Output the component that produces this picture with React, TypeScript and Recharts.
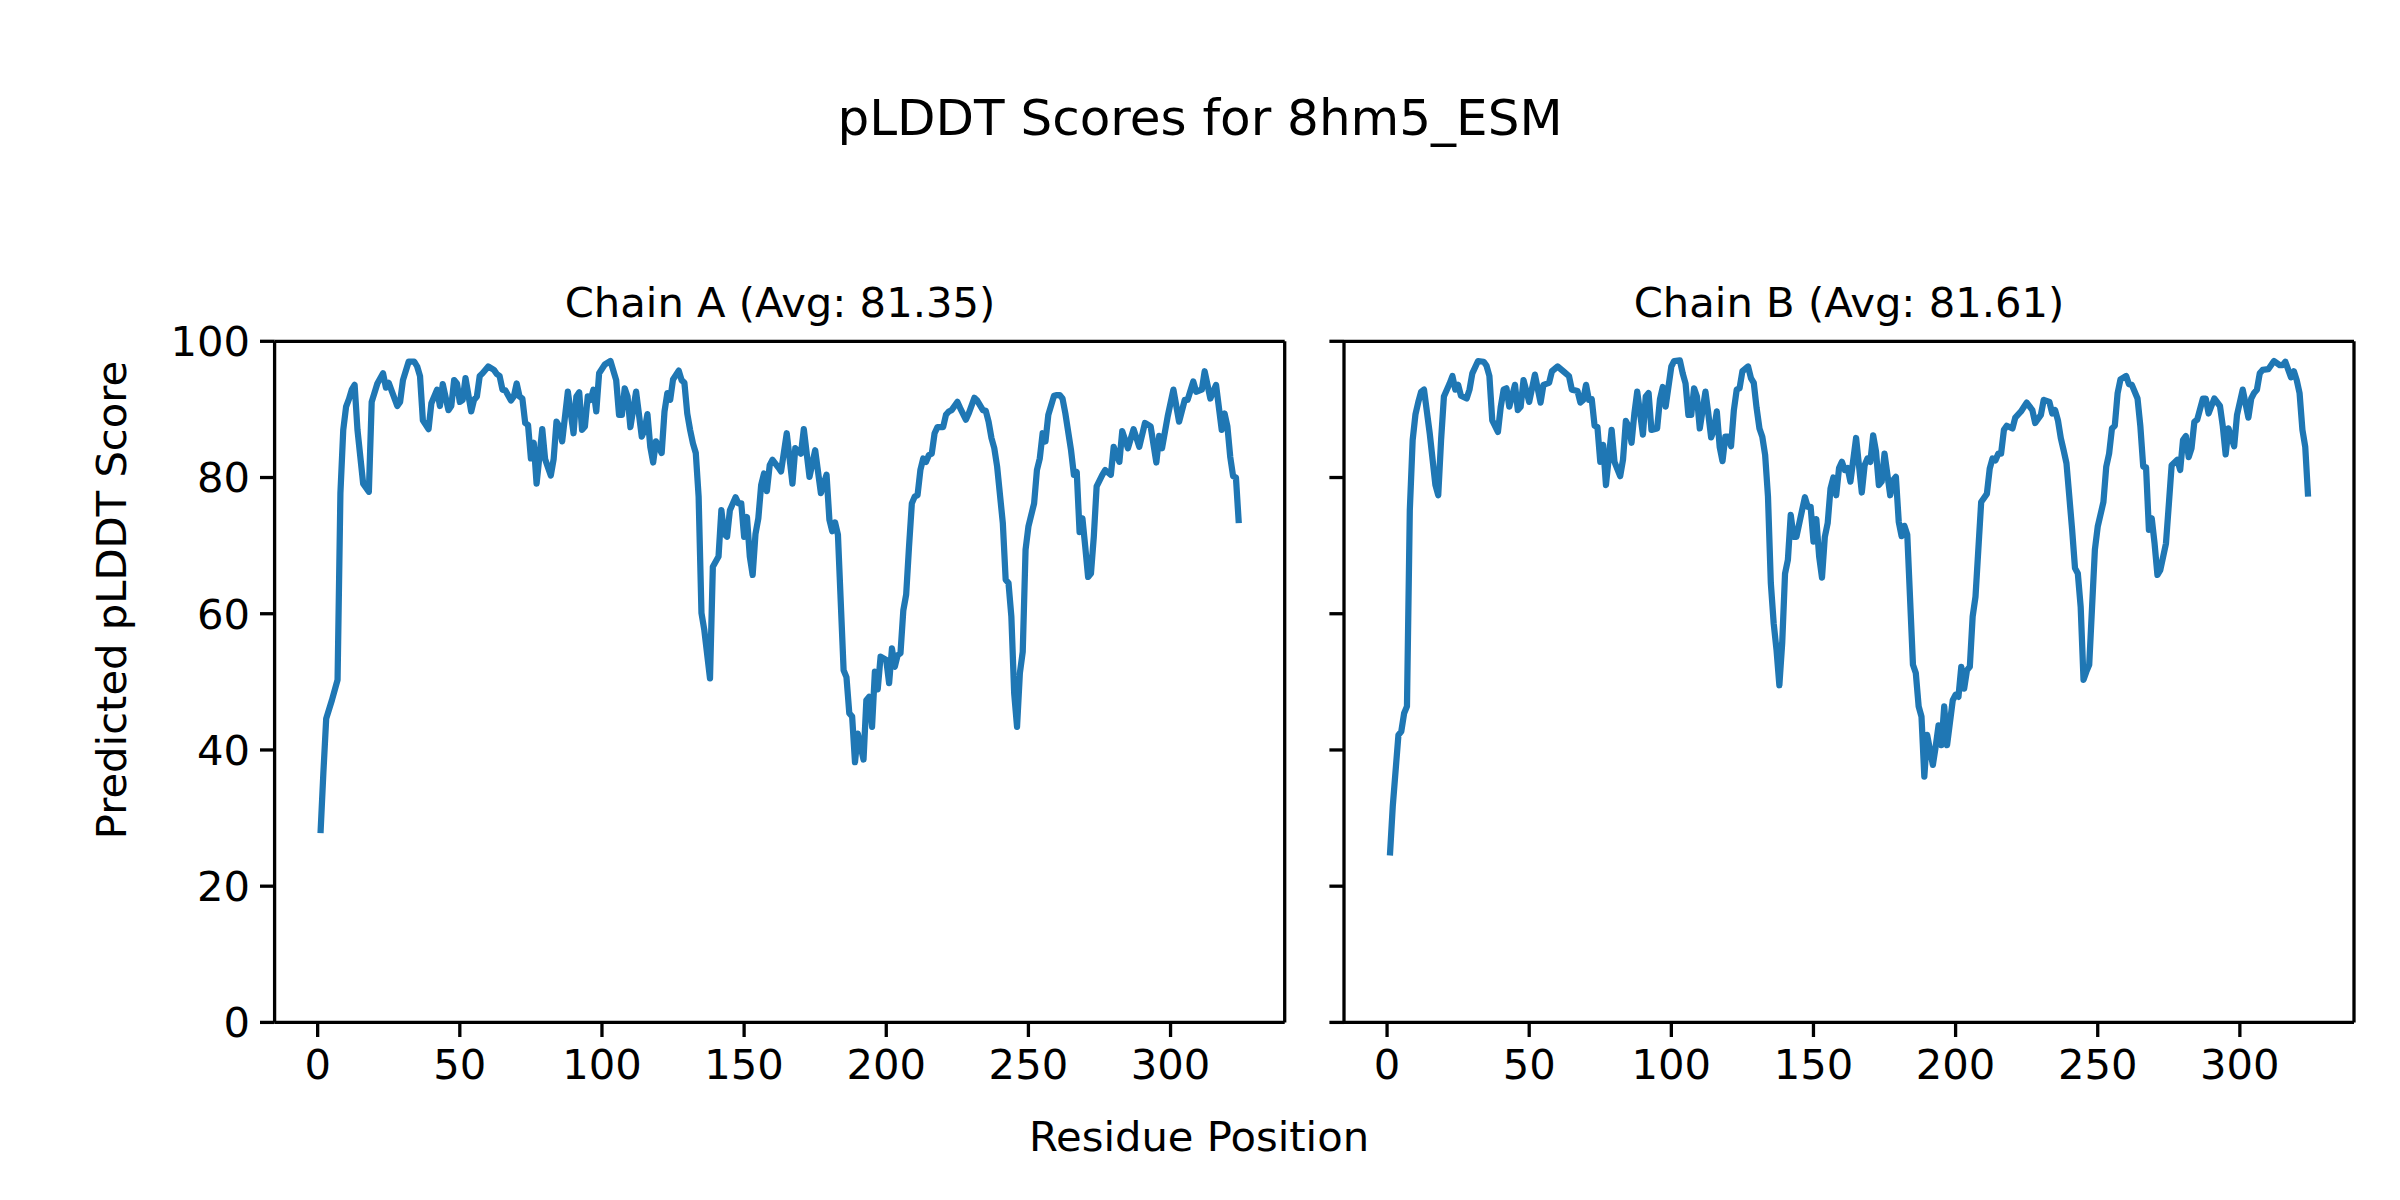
import { LineChart, Line, XAxis, YAxis } from 'recharts';

const FONT = '"DejaVu Sans", sans-serif';
const BLUE = '#1f77b4';

const xTicks = [0, 50, 100, 150, 200, 250, 300];
const yTicks = [0, 20, 40, 60, 80, 100];

const residuesA = [
  1, 2, 3, 5, 7, 8, 9, 10, 11, 12, 13, 14, 16, 18, 19, 21, 23, 24, 25, 28, 29, 30, 32, 34, 35, 36, 37, 39, 40, 42,
  43, 44, 46, 47, 48, 49, 50, 51, 52, 54, 55, 56, 57, 58, 60, 62, 63, 64, 65, 66, 68, 69, 70, 71, 72, 73, 74, 75, 76, 77,
  79, 80, 82, 83, 84, 85, 86, 88, 90, 91, 92, 93, 94, 95, 96, 97, 98, 99, 101, 103, 105, 106, 107, 108, 109, 110, 112, 114, 115, 116,
  117, 118, 119, 121, 122, 123, 124, 125, 127, 128, 129, 130, 131, 132, 133, 134, 135, 136, 138, 139, 141, 142, 143, 144, 145, 147, 148, 149, 150, 151,
  152, 153, 154, 155, 156, 157, 158, 159, 160, 162, 163, 165, 167, 168, 170, 171, 173, 175, 177, 179, 180, 181, 182, 183, 185, 186, 187, 188, 189, 190,
  192, 193, 194, 195, 196, 197, 198, 200, 201, 202, 203, 204, 205, 206, 207, 208, 209, 210, 211, 212, 213, 214, 215, 216, 217, 218, 220, 221, 222, 223,
  225, 226, 228, 229, 231, 232, 234, 235, 236, 237, 238, 239, 241, 242, 243, 244, 245, 246, 247, 248, 249, 250, 252, 253, 254, 255, 256, 257, 259, 260,
  261, 262, 263, 265, 266, 267, 268, 269, 270, 271, 272, 273, 274, 276, 277, 279, 280, 282, 283, 285, 287, 289, 291, 293, 295, 296, 297, 299, 301, 303,
  305, 306, 308, 309, 311, 312, 314, 316, 318, 319, 320, 321, 322, 323, 324,
];
const scoresA = [
  27.8, 36.6, 44.6, 47.3, 50.3, 77.7, 87.0, 90.4, 91.5, 92.9, 93.6, 87.0, 79.1, 77.9, 91.1, 93.8, 95.3, 93.2, 93.9, 90.5, 91.1, 94.3, 97.0, 97.0, 96.3, 94.9, 88.4, 87.1, 90.9, 92.9,
  90.5, 93.7, 89.9, 90.5, 94.3, 93.8, 91.1, 91.4, 94.6, 89.7, 91.4, 91.9, 94.9, 95.3, 96.3, 95.8, 95.2, 94.9, 92.9, 92.8, 91.3, 91.9, 93.8, 91.9, 91.6, 88.0, 87.7, 82.8, 85.1, 79.1,
  87.1, 82.7, 80.3, 82.7, 88.2, 87.5, 85.3, 92.6, 86.5, 91.9, 92.5, 87.0, 87.5, 91.9, 91.4, 92.9, 89.7, 95.3, 96.6, 97.1, 94.3, 89.2, 89.2, 93.1, 91.9, 87.4, 92.6, 86.0, 87.0, 89.3,
  84.5, 82.2, 85.3, 83.6, 89.7, 92.4, 91.4, 94.4, 95.7, 94.3, 93.9, 89.4, 87.0, 85.0, 83.6, 77.2, 60.1, 57.6, 50.5, 66.9, 68.4, 75.2, 71.7, 71.3, 75.2, 77.1, 76.2, 76.2, 71.3, 74.2,
  68.4, 65.7, 71.7, 74.0, 78.9, 80.6, 78.0, 81.8, 82.6, 81.5, 80.9, 86.5, 79.1, 84.3, 83.5, 87.1, 80.1, 84.0, 77.7, 80.4, 73.8, 72.1, 73.4, 71.6, 51.7, 50.7, 45.4, 44.9, 38.2, 42.4,
  38.6, 47.3, 47.8, 43.4, 51.5, 48.9, 53.7, 53.2, 49.8, 54.9, 52.2, 53.9, 54.2, 60.5, 62.8, 69.8, 76.2, 77.2, 77.4, 81.1, 82.8, 82.3, 83.3, 83.5, 86.5, 87.4, 87.4, 89.2, 89.7, 89.9,
  91.1, 90.2, 88.5, 89.4, 91.7, 91.3, 89.9, 89.8, 88.2, 85.8, 84.3, 81.6, 73.3, 65.0, 64.5, 59.6, 48.3, 43.4, 51.3, 54.4, 69.4, 72.8, 76.2, 81.1, 82.8, 86.5, 85.3, 89.2, 92.0, 92.1,
  92.1, 91.6, 89.4, 84.0, 80.4, 80.8, 72.0, 74.0, 69.8, 65.4, 65.9, 71.3, 78.7, 80.4, 81.1, 80.4, 84.5, 82.3, 86.8, 84.3, 87.1, 84.5, 88.0, 87.5, 82.2, 86.1, 84.3, 89.0, 92.9, 88.2,
  91.4, 91.4, 94.1, 92.6, 92.9, 95.6, 91.6, 93.6, 87.0, 89.4, 87.5, 83.0, 80.2, 80.0, 73.3,
];

const residuesB = [
  1, 2, 4, 5, 6, 7, 8, 9, 10, 11, 12, 13, 15, 17, 18, 19, 20, 22, 23, 24, 25, 26, 28, 29, 30, 32, 34, 35, 36, 37,
  39, 40, 41, 42, 43, 45, 46, 47, 48, 50, 52, 54, 55, 57, 58, 60, 62, 64, 65, 67, 68, 69, 70, 71, 72, 73, 74, 75, 76, 77,
  79, 80, 82, 83, 84, 85, 86, 87, 88, 90, 91, 92, 93, 95, 96, 97, 98, 100, 101, 103, 104, 105, 106, 107, 108, 109, 110, 112, 113, 114,
  115, 116, 117, 118, 119, 120, 121, 122, 123, 124, 125, 127, 128, 129, 130, 131, 132, 133, 134, 135, 136, 137, 138, 139, 140, 141, 142, 143, 144, 146,
  147, 148, 149, 150, 151, 152, 153, 154, 155, 156, 157, 158, 159, 160, 161, 162, 163, 165, 167, 168, 169, 170, 171, 172, 173, 174, 175, 177, 178, 179,
  180, 181, 182, 183, 185, 186, 187, 188, 189, 190, 192, 193, 194, 195, 196, 197, 199, 200, 201, 202, 203, 204, 205, 206, 207, 209, 211, 212, 213, 214,
  215, 216, 217, 218, 220, 221, 223, 225, 227, 228, 230, 231, 233, 234, 235, 236, 237, 238, 239, 240, 241, 242, 243, 244, 245, 246, 247, 249, 250, 252,
  253, 254, 255, 256, 257, 258, 260, 261, 262, 264, 265, 266, 267, 268, 269, 270, 271, 272, 274, 275, 276, 278, 279, 280, 281, 282, 283, 284, 285, 287,
  288, 289, 291, 293, 294, 295, 296, 298, 299, 301, 303, 304, 305, 306, 307, 308, 310, 312, 314, 315, 316, 318, 319, 320, 321, 322, 323, 324,
];
const scoresB = [
  24.5, 31.7, 42.2, 42.7, 45.4, 46.4, 75.2, 85.5, 89.3, 91.1, 92.6, 92.9, 86.5, 78.9, 77.4, 85.5, 91.9, 93.8, 94.9, 92.9, 93.6, 92.0, 91.6, 92.9, 95.3, 97.1, 97.0, 96.4, 94.9, 88.4,
  86.7, 90.4, 92.9, 93.1, 90.4, 93.6, 89.9, 90.4, 94.3, 91.1, 95.1, 91.0, 93.6, 93.9, 95.6, 96.3, 95.6, 94.9, 92.9, 92.7, 91.0, 91.4, 93.6, 91.4, 91.5, 87.6, 87.4, 82.3, 84.8, 78.9,
  87.0, 82.3, 80.2, 82.6, 88.3, 87.5, 85.1, 89.4, 92.6, 86.3, 91.9, 92.4, 87.0, 87.2, 91.5, 93.3, 90.4, 96.3, 97.1, 97.2, 95.3, 93.8, 89.2, 89.2, 93.1, 91.9, 87.2, 92.6, 89.4, 85.9,
  87.0, 89.7, 84.5, 82.4, 86.0, 86.0, 84.6, 89.9, 92.9, 93.1, 95.6, 96.3, 94.6, 93.9, 90.2, 87.2, 86.0, 83.3, 77.2, 64.5, 58.6, 54.7, 49.5, 55.7, 65.9, 67.9, 74.5, 71.3, 71.3, 75.2,
  77.1, 75.7, 75.7, 70.6, 73.9, 68.4, 65.3, 71.3, 73.3, 78.4, 80.0, 77.4, 81.4, 82.3, 81.1, 81.4, 79.4, 85.8, 77.8, 81.8, 82.8, 82.3, 86.2, 83.8, 78.9, 79.4, 83.5, 77.4, 79.6, 80.1,
  73.5, 71.4, 72.9, 71.6, 52.5, 51.3, 46.4, 44.9, 36.1, 42.2, 37.8, 40.5, 43.6, 40.7, 46.4, 40.7, 47.3, 48.1, 47.8, 52.2, 49.0, 51.7, 52.2, 59.6, 62.5, 76.4, 77.6, 81.3, 82.8, 82.5,
  83.5, 83.5, 87.0, 87.6, 87.2, 88.8, 89.7, 91.0, 89.9, 88.0, 89.2, 91.4, 91.1, 89.4, 89.9, 88.4, 85.8, 84.0, 82.1, 77.2, 72.3, 66.7, 65.9, 61.0, 50.3, 51.5, 52.5, 69.4, 72.8, 76.4,
  81.6, 83.5, 87.2, 87.6, 92.4, 94.4, 94.9, 93.7, 93.6, 91.6, 87.5, 81.6, 81.5, 72.3, 74.0, 70.3, 65.7, 66.4, 70.3, 76.0, 81.8, 82.6, 81.1, 85.5, 86.1, 83.0, 84.3, 88.2, 88.5, 91.6,
  91.6, 89.4, 91.6, 90.5, 87.5, 83.4, 87.2, 84.6, 89.2, 92.9, 88.8, 91.6, 92.4, 92.9, 95.3, 95.8, 95.9, 97.1, 96.5, 96.5, 97.0, 94.7, 95.6, 94.3, 92.4, 87.0, 84.5, 77.2,
];

const chainA = residuesA.map((residue, i) => ({ residue, score: scoresA[i] }));
const chainB = residuesB.map((residue, i) => ({ residue, score: scoresB[i] }));

const X_DOMAIN = [-15.15, 340.15];
const tickStyle = { fontSize: 41.7, fill: '#000', fontFamily: FONT };
const axisLine = { stroke: '#000', strokeWidth: 3.3 };

function Panel({ data, left, marginLeft, marginRight, showYLabels }: any) {
  return (
    <div style={{ position: 'absolute', left, top: 0 }}>
      <LineChart
        width={1300}
        height={1200}
        data={data}
        margin={{ top: 340.3, right: marginRight - 1, left: marginLeft, bottom: 97.6 }}
      >
        <XAxis
          dataKey="residue"
          type="number"
          domain={X_DOMAIN}
          ticks={xTicks}
          allowDataOverflow
          height={80}
          axisLine={axisLine}
          tickLine={axisLine}
          tickSize={14.6}
          tickMargin={12}
          tick={tickStyle}
          interval={0}
        />
        {/* top and right spines, matplotlib style box */}
        <XAxis
          xAxisId="top"
          dataKey="residue"
          orientation="top"
          type="number"
          domain={X_DOMAIN}
          allowDataOverflow
          height={1}
          axisLine={axisLine}
          tickLine={false}
          tick={false}
        />
        <YAxis
          type="number"
          domain={[0, 100]}
          ticks={yTicks}
          width={100}
          axisLine={axisLine}
          tickLine={axisLine}
          tickSize={14.6}
          tickMargin={10}
          tick={tickStyle}
          tickFormatter={(v: number) => (showYLabels ? String(v) : '')}
          interval={0}
        />
        <YAxis
          yAxisId="right"
          orientation="right"
          type="number"
          domain={[0, 100]}
          allowDataOverflow
          width={1}
          axisLine={axisLine}
          tickLine={false}
          tick={false}
        />
        <Line
          xAxisId="top"
          yAxisId="right"
          type="linear"
          dataKey="score"
          stroke="none"
          dot={false}
          activeDot={false}
          legendType="none"
          isAnimationActive={false}
        />
        <Line
          type="linear"
          dataKey="score"
          stroke={BLUE}
          strokeWidth={6.25}
          strokeLinejoin="round"
          dot={false}
          activeDot={false}
          isAnimationActive={false}
        />
      </LineChart>
    </div>
  );
}

const textBase = {
  position: 'absolute' as const,
  fontFamily: FONT,
  color: '#000',
  lineHeight: 1,
  whiteSpace: 'nowrap' as const,
  transform: 'translate(-50%, -50%)',
};

export default function App() {
  return (
    <div
      style={{
        position: 'absolute',
        left: 0,
        top: 0,
        width: 2400,
        height: 1200,
        background: '#fff',
        overflow: 'hidden',
      }}
    >
      <Panel data={chainA} left={0} marginLeft={174.6} marginRight={15.3} showYLabels />
      <Panel data={chainB} left={1100} marginLeft={144} marginRight={46} showYLabels={false} />

      <div style={{ ...textBase, left: 1200, top: 118, fontSize: 50 }}>pLDDT Scores for 8hm5_ESM</div>
      <div style={{ ...textBase, left: 780, top: 303, fontSize: 41.7 }}>Chain A (Avg: 81.35)</div>
      <div style={{ ...textBase, left: 1849, top: 303, fontSize: 41.7 }}>Chain B (Avg: 81.61)</div>
      <div style={{ ...textBase, left: 1199, top: 1137, fontSize: 41.7 }}>Residue Position</div>
      <div style={{ ...textBase, left: 112, top: 600, fontSize: 41.7, transform: 'translate(-50%, -50%) rotate(-90deg)' }}>
        Predicted pLDDT Score
      </div>
    </div>
  );
}
